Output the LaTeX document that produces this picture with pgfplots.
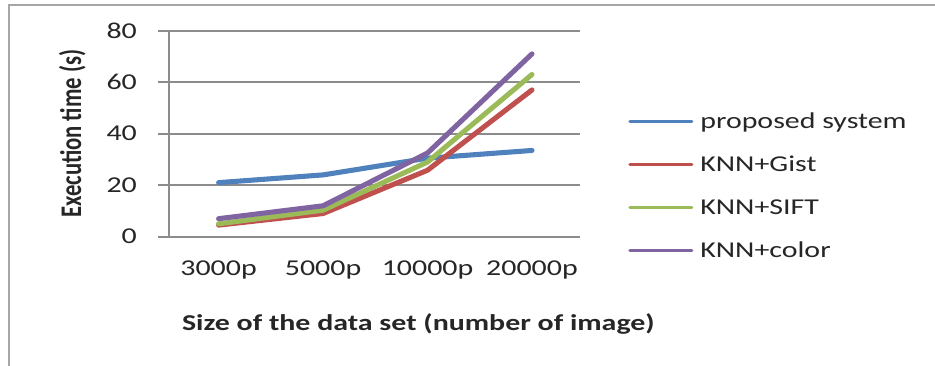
\documentclass[border=0pt]{standalone}
\usepackage{fontspec}
\setmainfont{Carlito}[FakeStretch=1.32]
\newfontfamily\ylabfont{Carlito}[FakeStretch=1.0]
\usepackage{pgfplots}
\pgfplotsset{compat=1.18}
\definecolor{cblue}{HTML}{4F81BD}
\definecolor{cred}{HTML}{C0504D}
\definecolor{cgreen}{HTML}{9BBB59}
\definecolor{cpurple}{HTML}{8064A2}
\definecolor{gridgray}{HTML}{8C8C8C}
\definecolor{framegray}{HTML}{A6A6A6}
\begin{document}
\begin{tikzpicture}
\begin{axis}[
  at={(0,0)}, anchor=south west,
  scale only axis,
  width=307.9pt, height=154.5pt,
  xmin=-0.47, xmax=3.46,
  ymin=0, ymax=80,
  axis x line=bottom, axis y line=left,
  axis line style={gridgray, line width=1.5pt, -},
  xtick={0,1,2,3},
  xticklabels={3000p,5000p,10000p,20000p},
  ytick={0,20,40,60,80},
  ymajorgrids,
  grid style={gridgray, line width=1.5pt},
  tick align=outside,
  major tick length=8.25pt,
  ytick style={gridgray, line width=1.5pt},
  xtick style={draw=none},
  /pgf/number format/assume math mode=true,
  tick label style={font=\fontsize{17}{20}\selectfont, text=black!85},
  yticklabel style={inner sep=0pt, anchor=east, xshift=-16pt},
  xticklabel style={inner sep=0pt, anchor=base, yshift=-21pt},
  xlabel={Size of the data set (number of image)},
  xlabel style={at={(axis description cs:0.03,0)}, anchor=base west, yshift=-70.7pt, inner sep=0pt, font=\fontsize{17}{20}\selectfont\bfseries, text=black!85},
  ylabel={Execution time (s)},
  ylabel style={at={(axis description cs:-0.237,0.5)}, anchor=center, inner sep=0pt, yscale=1.32, font=\ylabfont\fontsize{17}{20}\selectfont\bfseries, text=black!85},
  legend style={at={(axis description cs:1.117,0.608)}, anchor=north west, draw=none, fill=none, inner sep=0pt,
    row sep=16.25pt, column sep=5.25pt,
    font=\fontsize{17}{20}\selectfont,
    nodes={inner sep=0pt, text height=12.5pt, text depth=3.5pt, anchor=base west, text=black!85}},
  legend cell align=left,
  legend image code/.code={\draw[#1, line width=2.25pt] (0pt,5.5pt) -- (46.5pt,5.5pt);},
  every axis plot/.append style={line width=3.8pt, line join=round, line cap=round},
]
\addplot[cblue] coordinates {(0,21) (1,24) (2,30.5) (3,33.5)};
\addlegendentry{proposed system}
\addplot[cred] coordinates {(0,4.5) (1,9) (2,25.8) (3,57)};
\addlegendentry{KNN+Gist}
\addplot[cgreen] coordinates {(0,5) (1,10.3) (2,29) (3,63)};
\addlegendentry{KNN+SIFT}
\addplot[cpurple] coordinates {(0,7) (1,12) (2,32.5) (3,71)};
\addlegendentry{KNN+color}
\end{axis}
\draw[framegray, line width=1.8pt] (-120.375pt,-100pt) -- (-120.375pt,173.775pt) -- (580pt,173.775pt);
\pgfresetboundingbox
\useasboundingbox (-127.125pt,-96.225pt) rectangle (574.125pt,177.525pt);
\end{tikzpicture}
\end{document}
